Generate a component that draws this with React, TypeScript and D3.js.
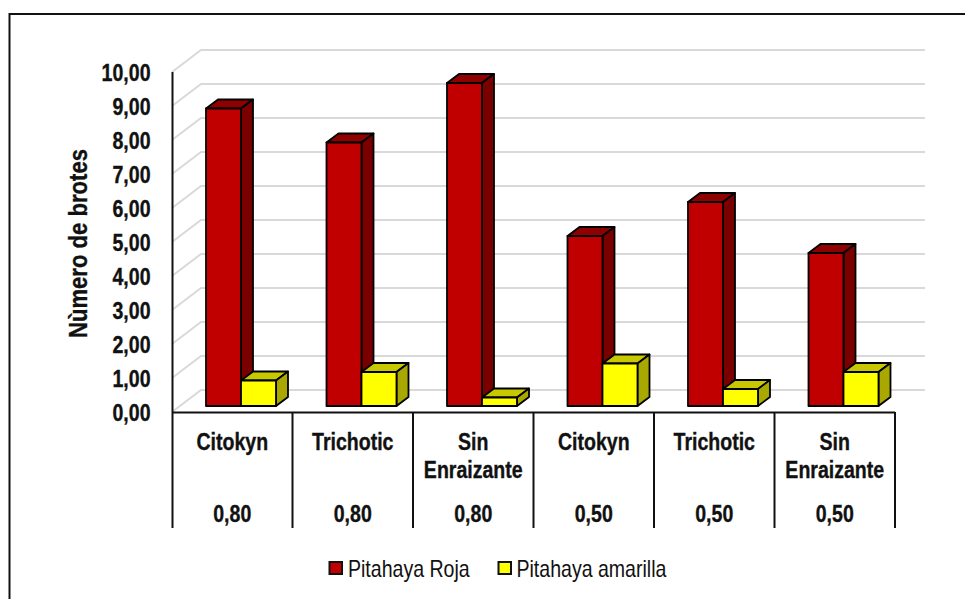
import React from "react";
import * as d3 from "d3";

const categories = ["Citokyn", "Trichotic", "Sin Enraizante", "Citokyn", "Trichotic", "Sin Enraizante"];
const doses = ["0,80", "0,80", "0,80", "0,50", "0,50", "0,50"];
const roja = [8.75, 7.75, 9.5, 5.0, 6.0, 4.5];
const amarilla = [0.75, 1.0, 0.25, 1.25, 0.5, 1.0];
const yTicks = [0, 1, 2, 3, 4, 5, 6, 7, 8, 9, 10];
const seriesNames = ["Pitahaya Roja", "Pitahaya amarilla"];
const yTitle = "Nùmero de brotes";

const FONT = "'Liberation Sans', Arial, sans-serif";
const INK = "#111";
const SX = 0.85;

const y = d3.scaleLinear().domain([0, 10]).range([412, 72]);
const x = d3.scaleBand<number>().domain(d3.range(6)).range([172, 895]);
const wallDx = 29, wallDy = 22;
const barDx = 12, barDy = 9, baseLift = 6, barW = 35;

function Bar({ x0, v, front, top, side }: { x0: number; v: number; front: string; top: string; side: string }) {
  const yt = y(v) - baseLift;
  const yb = y(0) - baseLift;
  const x1 = x0 + barW;
  const line = d3.line();
  return (
    <g stroke="#000" strokeWidth={1.8} strokeLinejoin="round">
      <path d={line([[x0, yt], [x0 + barDx, yt - barDy], [x1 + barDx, yt - barDy], [x1, yt]]) + "Z"} fill={top} />
      <path d={line([[x1, yt], [x1 + barDx, yt - barDy], [x1 + barDx, yb - barDy], [x1, yb]]) + "Z"} fill={side} />
      <rect x={x0} y={yt} width={barW} height={yb - yt} fill={front} />
    </g>
  );
}

function T({ x: tx, y: ty, anchor, bold, children }: { x: number; y: number; anchor?: string; bold?: boolean; children: React.ReactNode }) {
  const b = bold !== false;
  return (
    <text
      transform={`translate(${tx},${ty}) scale(${SX},1)`}
      textAnchor={anchor ?? "middle"}
      fontSize={23}
      fontWeight={b ? 700 : 400}
      fill={INK}
      stroke={b ? INK : "none"}
      strokeWidth={b ? 0.35 : 0}
    >
      {children}
    </text>
  );
}

export default function App() {
  const step = x.step();
  return (
    <svg width={965} height={599} style={{ position: "absolute", left: 0, top: 0, background: "#fff" }} fontFamily={FONT}>
      <path d="M9.5 599V14H965" fill="none" stroke={INK} strokeWidth={2} />
      {yTicks.map((t) => (
        <path key={t} d={`M${x(0)} ${y(t)}L${x(0)! + wallDx} ${y(t) - wallDy}H925`} stroke="#d9d9d9" strokeWidth={2} fill="none" />
      ))}
      {d3.range(6).map((i) => {
        const x0 = x(i)! + 34;
        return (
          <g key={i}>
            <Bar x0={x0} v={roja[i]} front="#c00000" top="#8f0000" side="#7a0000" />
            <Bar x0={x0 + barW} v={amarilla[i]} front="#ffff00" top="#c8c800" side="#a8a800" />
          </g>
        );
      })}
      <path d={`M172.5 ${y(10)}V528M172 412.5H895`} fill="none" stroke={INK} strokeWidth={2} />
      {d3.range(1, 7).map((i) => (
        <line key={i} x1={x(0)! + step * i} x2={x(0)! + step * i} y1={412} y2={528} stroke={INK} strokeWidth={2} />
      ))}
      {yTicks.map((t) => (
        <T key={t} x={150.5} y={y(t) + 8.5} anchor="end">
          {t.toFixed(2).replace(".", ",")}
        </T>
      ))}
      <text
        transform={`translate(87,243.5) rotate(-90) scale(${SX},1)`}
        textAnchor="middle"
        fontSize={26}
        fontWeight={700}
        fill={INK}
        stroke={INK}
        strokeWidth={0.35}
      >
        {yTitle}
      </text>
      {categories.map((c, i) => {
        const cx = x(i)! + step / 2;
        const words = c.split(" ");
        return (
          <g key={i}>
            <T x={cx} y={449.5}>{words[0]}</T>
            {words[1] && <T x={cx} y={478}>{words[1]}</T>}
            <T x={cx} y={521.5}>{doses[i]}</T>
          </g>
        );
      })}
      <rect x={329.5} y={562} width={12.5} height={12} fill="#c00000" stroke={INK} strokeWidth={2} />
      <T x={348} y={576.5} anchor="start" bold={false}>{seriesNames[0]}</T>
      <rect x={498.5} y={562} width={12.5} height={12} fill="#ffff00" stroke={INK} strokeWidth={2} />
      <T x={516.5} y={576.5} anchor="start" bold={false}>{seriesNames[1]}</T>
    </svg>
  );
}
